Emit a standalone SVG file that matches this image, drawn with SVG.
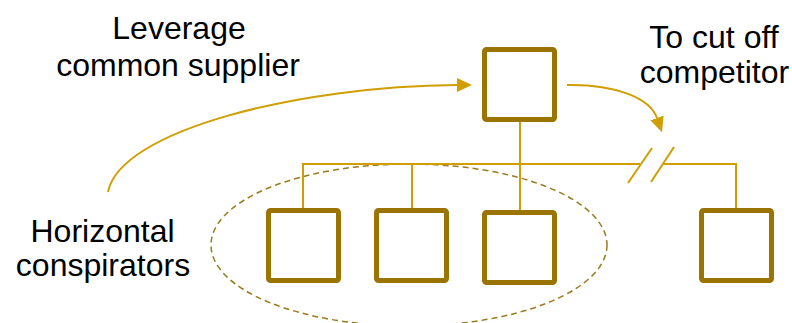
<svg xmlns="http://www.w3.org/2000/svg" width="792" height="323" viewBox="0 0 792 323">
  <style>
    .box { fill: #ffffff; stroke: #9B7300; stroke-width: 5; }
    .wire { fill: none; stroke: #D09E00; stroke-width: 2; }
    .ring { fill: none; stroke: #9B7A1E; stroke-width: 1.5; stroke-dasharray: 6 4; }
    .label { font-family: "Liberation Sans", Arial, sans-serif; font-size: 32px; fill: #000000; text-anchor: middle; }
  </style>
  <defs>
    <marker id="arrow" markerUnits="userSpaceOnUse" markerWidth="16" markerHeight="15" refX="0" refY="7" orient="auto">
      <path d="M0,0 L15,7 L0,14 z" fill="#D09E00"/>
    </marker>
  </defs>

  <rect width="792" height="323" fill="#ffffff"/>

  <!-- group of conspirators -->
  <ellipse class="ring" cx="409" cy="245" rx="198" ry="81"/>

  <g id="connectors">
    <line class="wire" x1="520" y1="122" x2="520" y2="210"/>
    <polyline class="wire" points="303,208 303,164 640,164"/>
    <line class="wire" x1="412" y1="164" x2="412" y2="208"/>
    <polyline class="wire" points="663,164 736,164 736,208"/>
    <!-- break marks -->
    <line class="wire" x1="628" y1="183" x2="652" y2="148"/>
    <line class="wire" x1="651" y1="182" x2="674" y2="147"/>
    <!-- curved arrows -->
    <path class="wire" d="M108,192 C120,130 300,86 457,85" marker-end="url(#arrow)"/>
    <path class="wire" d="M567,85 C615,84 650,98 657,118" marker-end="url(#arrow)"/>
  </g>

  <g id="supplier"><rect class="box" x="484.5" y="49.5" width="70" height="70" rx="2"/></g>
  <g id="firm1"><rect class="box" x="268.5" y="210.5" width="70" height="70" rx="2"/></g>
  <g id="firm2"><rect class="box" x="376.5" y="210.5" width="70" height="70" rx="2"/></g>
  <g id="firm3"><rect class="box" x="484.5" y="212.5" width="70" height="70" rx="2"/></g>
  <g id="competitor"><rect class="box" x="701.5" y="210.5" width="70" height="70" rx="2"/></g>

  <g id="labels">
    <text class="label" x="179" y="39">Leverage</text>
    <text class="label" x="178" y="76">common supplier</text>
    <text class="label" x="102.5" y="242">Horizontal</text>
    <text class="label" x="103" y="276">conspirators</text>
    <text class="label" x="714" y="48">To cut off</text>
    <text class="label" x="714.5" y="83">competitor</text>
  </g>
</svg>
